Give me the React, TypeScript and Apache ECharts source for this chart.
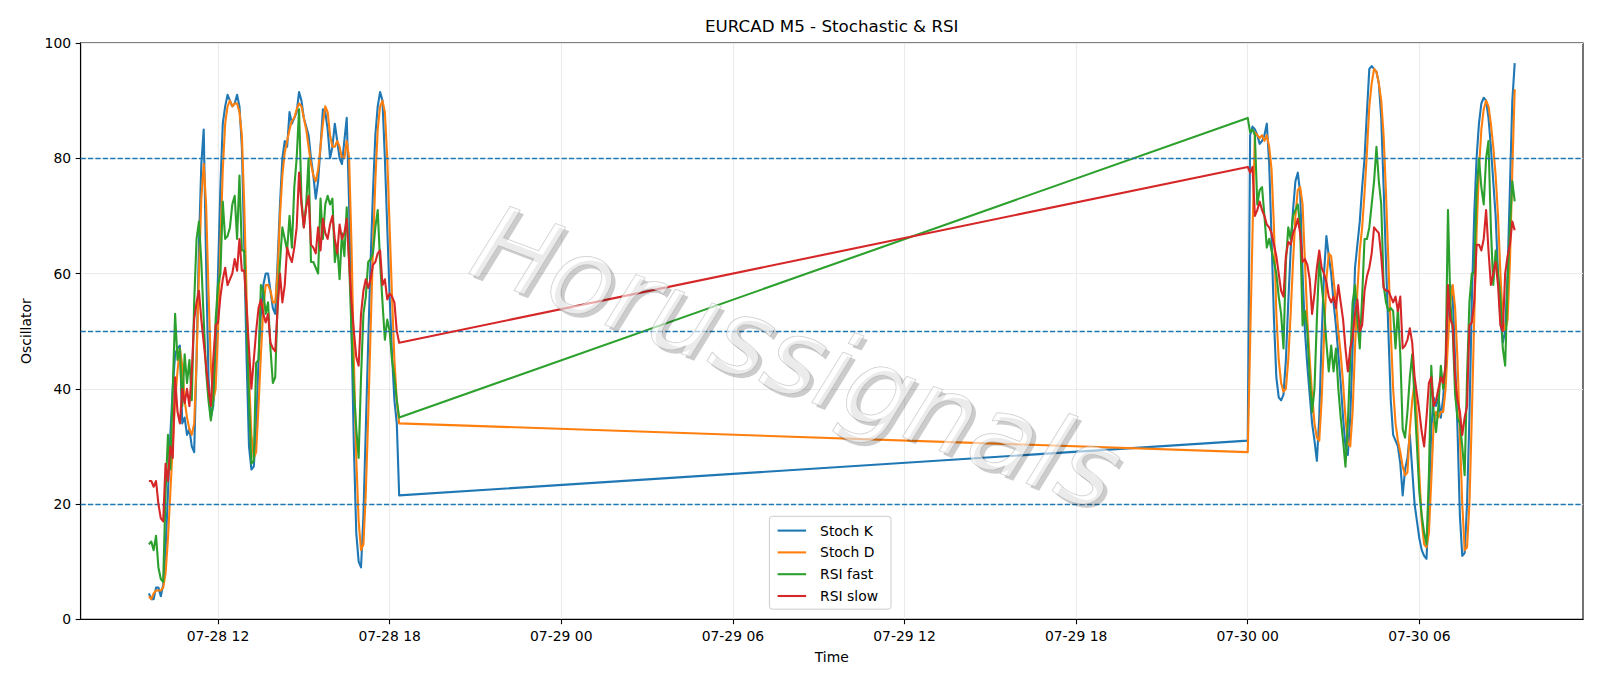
import React, { useEffect, useRef } from 'react';
import * as echarts from 'echarts';

// ---- time layout of the samples (5-minute bars) ----
const SEG1_START = Date.UTC(2025, 6, 28, 9, 35);
const SEG2_START = Date.UTC(2025, 6, 30, 0, 0);
const STEP_MS = 5 * 60 * 1000;

const X_TICKS = [
  Date.UTC(2025, 6, 28, 12), Date.UTC(2025, 6, 28, 18),
  Date.UTC(2025, 6, 29, 0), Date.UTC(2025, 6, 29, 6),
  Date.UTC(2025, 6, 29, 12), Date.UTC(2025, 6, 29, 18),
  Date.UTC(2025, 6, 30, 0), Date.UTC(2025, 6, 30, 6),
];
const LEVELS = [20, 50, 80];

// ---- session 1: 07-28 09:35 .. 18:20 ----
const stochK1 = [
  4.5, 3.5, 3.5, 5.5, 5.5, 4, 6, 12, 22, 32,
  40, 46, 47, 47.5, 34, 35, 32, 33, 30, 29,
  45, 65, 79, 85, 62, 42, 35, 37, 45, 60,
  75, 86, 89, 91, 90, 89, 89.5, 91, 89, 82,
  65, 45, 30, 26, 26.5, 33, 45, 53, 58, 60,
  60, 57, 54, 53, 62, 72, 80, 83, 82, 88,
  86, 87, 88, 91.5, 90, 87, 85.5, 84, 80, 77,
  73, 76, 82, 88.5, 88, 85, 80, 82, 86, 83,
  80, 79, 83, 87, 72, 50, 30, 15, 10, 9,
  18, 33, 48, 62, 74, 84, 89, 91.5, 90, 80,
  68, 56, 46, 38, 34, 21.5,
];
const stochD1 = [
  4, 3.5, 4.5, 5, 5, 5, 5.5, 8, 14, 22,
  30, 38, 43, 47, 44, 38, 35, 33, 32, 34,
  45, 60, 73, 79, 72, 57, 44, 38, 40, 50,
  65, 78, 86, 89, 90, 89, 89.5, 89.5, 88, 84,
  72, 56, 42, 32, 28, 29, 37, 46, 54, 58,
  58, 57, 55, 55, 60, 70, 77, 81, 83, 85,
  86.5, 87, 88.5, 89.5, 89, 87, 85, 82, 79, 77,
  76, 78, 82, 86, 89, 88, 84, 82, 82, 83,
  82, 80, 80, 83, 80, 65, 45, 28, 17, 12,
  13, 22, 35, 50, 64, 76, 85, 89, 90, 88,
  80, 68, 56, 45, 38, 34,
];
const rsiFast1 = [
  13, 13.5, 12, 14.5, 9, 7, 6.5, 22, 32, 26,
  40, 53, 45, 47, 37, 46, 41, 45, 38, 55,
  66, 69, 62, 52, 43, 38, 34.5, 38, 52, 58,
  60, 72.5, 66, 66.5, 68, 72, 73.5, 66, 77, 64,
  64, 52, 38, 27, 27.5, 44.5, 45, 58, 57, 53,
  55, 47, 41, 42, 55, 62, 68, 66, 64, 70,
  64.5, 75, 80, 88.5, 73, 68, 72, 80, 62, 62,
  61, 60, 73, 66, 72, 73.5, 72, 73, 62, 65,
  59, 67, 63, 71.5, 62, 50, 40, 33, 28, 42,
  53, 56, 62, 62.5, 63.5, 68, 71, 62, 55, 48.5,
  52, 50, 45, 42, 38, 35,
];
const rsiSlow1 = [
  24, 24, 23, 24, 20, 17.5, 17, 27, 24, 30,
  28, 42, 36, 34, 40, 37.5, 40, 37, 43, 52,
  55, 57, 52, 48, 44, 40, 37, 45, 51, 51.5,
  56, 59, 61, 58, 59, 60, 62.5, 60.5, 66, 60.5,
  60.5, 54, 47, 40, 45, 50, 54, 55.5, 53, 51.5,
  53, 48, 47, 46.5, 54, 60, 55, 58, 64.5, 63,
  62, 64.5, 68, 77.5, 72, 68, 71.5, 73.5, 65, 64.5,
  63.5, 68, 64, 69.5, 67, 66, 68.5, 70, 66, 63.5,
  68.5, 66, 67, 69.5, 62, 55, 50, 45.5, 44, 53,
  57, 59, 57.5, 59, 61.5, 62, 63.5, 64, 58, 59,
  55.5, 56.5, 56, 55, 50, 48,
];

// ---- session 2: 07-30 00:00 .. 09:20 ----
const stochK2 = [
  31, 84, 85.5, 85, 84, 82.5, 83, 84, 86, 79,
  66, 52, 42, 38.5, 38, 39, 45, 55, 64, 71,
  76, 77.5, 74, 60, 50, 44, 39, 34, 31, 27.5,
  35, 49, 60, 66.5, 63, 60, 55, 51, 46, 41,
  35, 30, 28.5, 35, 47, 61, 65, 69, 75, 80,
  88, 95.5, 96, 95.5, 95, 93, 87, 75, 62, 50,
  38, 32, 31, 30, 27, 21.5, 26, 28, 32, 26,
  20, 17, 14, 12, 11, 10.5, 20, 33, 38.5, 37,
  38.5, 35, 38.5, 44, 53, 58, 56, 45, 33, 18,
  11, 11.5, 20, 35, 55, 70, 80, 86, 89.5, 90.5,
  90, 87, 82, 76, 70, 60, 52, 48, 50, 60,
  75, 90, 96.5,
];
const stochD2 = [
  29, 48, 67, 84.5, 84, 83.5, 84, 83, 84, 82,
  78, 68, 53, 45, 41, 39.5, 40, 45, 53, 62,
  70, 74.5, 75, 72, 62, 52, 45, 39, 34, 31.5,
  31, 38, 49, 59, 63.5, 63, 59, 55, 50, 46,
  41, 35, 30.5, 30, 36, 47, 57, 64, 68, 74,
  81, 89, 93, 95.5, 95, 93, 90, 84, 74, 62,
  50, 40, 34, 31, 29, 26.5, 25, 25.5, 33, 38,
  41, 35, 25, 17, 13, 12.5, 15, 24, 34, 36,
  35, 36, 36, 40, 48, 55, 58, 54, 45, 32,
  20, 12, 12.5, 20, 35, 52, 67, 78, 85, 88.5,
  90, 89, 86, 82, 77, 70, 60, 52, 50, 52,
  62, 78, 92,
];
const rsiFast2 = [
  87, 84.5, 85, 84, 72, 74.5, 75, 70, 64.5, 66,
  64, 62, 60, 56, 53, 47, 62, 68, 66, 70,
  71, 72, 68, 51, 53.5, 50, 42, 36, 40, 52,
  62.5, 58, 54, 48, 43, 47.5, 43, 47, 40, 35,
  31, 26.5, 34, 45, 55, 58, 52, 47, 56, 66,
  66, 68, 72, 76, 82, 76, 72, 58, 55, 53.5,
  54, 53.5, 47, 54, 46, 33, 31.5, 36, 42, 46,
  38, 30, 22, 18, 15, 13, 25, 44, 36, 32.5,
  37, 44, 40, 44, 71, 55, 50, 39, 35, 34,
  30, 25, 42, 55, 60, 60, 74, 80, 75, 72,
  80, 83, 68, 58, 64, 60, 56, 47, 44, 58,
  68, 76, 72.5,
];
const rsiSlow2 = [
  78.5, 77.5, 78.5, 70, 71, 72.5, 71, 70, 68.5, 68,
  67, 65, 63, 60, 57, 56, 63, 65.5, 65, 67,
  68, 69.5, 67, 62, 62.5, 61.5, 59, 53, 56.5, 61,
  64, 61, 60, 58.5, 56, 55, 56, 54, 58, 55,
  52, 47, 43, 47, 49, 53, 55.5, 50, 51, 57,
  59.5, 61, 63.5, 68, 67.5, 67, 63, 57.5, 57, 57,
  56, 55, 56, 53.5, 56, 47, 47.5, 48.5, 50.5, 48,
  42, 39, 36, 32.5, 30, 35, 41, 42, 37, 38,
  40, 42, 41, 44, 58, 52, 51, 42, 38, 36,
  32, 35, 37, 51, 51.5, 55, 65, 65, 64, 66,
  71, 64, 58, 60, 62, 58, 51, 50, 60, 63,
  65, 69, 67.5,
];

const SERIES_NAMES = ['Stoch K', 'Stoch D', 'RSI fast', 'RSI slow'];
const COLORS = ['#1f77b4', '#ff7f0e', '#2ca02c', '#d62728'];

const withTime = (a: number[], b: number[]) => [
  ...a.map((v, i) => [SEG1_START + i * STEP_MS, v]),
  ...b.map((v, i) => [SEG2_START + i * STEP_MS, v]),
];

const pad2 = (n: number) => String(n).padStart(2, '0');
const fmtTick = (v: number) => {
  const d = new Date(v);
  return `${pad2(d.getUTCMonth() + 1)}-${pad2(d.getUTCDate())} ${pad2(d.getUTCHours())}`;
};

const FONT = 'DejaVu Sans, Verdana, sans-serif';

export default function App() {
  const ref = useRef<HTMLDivElement>(null);

  useEffect(() => {
    if (!ref.current) return;
    const chart = echarts.init(ref.current, undefined, { renderer: 'svg' });

    const tStart = SEG1_START;
    const tEnd = SEG2_START + (stochK2.length - 1) * STEP_MS;
    const margin = (tEnd - tStart) * 0.05;

    const GL = 80.6, GR = 1583, GT = 43, GB = 619.3;

    const data = [
      withTime(stochK1, stochK2),
      withTime(stochD1, stochD2),
      withTime(rsiFast1, rsiFast2),
      withTime(rsiSlow1, rsiSlow2),
    ];

    const series: any[] = [
      {
        name: 'levels',
        type: 'line',
        data: [],
        silent: true,
        z: 1,
        markLine: {
          silent: true,
          symbol: ['none', 'none'],
          label: { show: false },
          animation: false,
          lineStyle: { color: '#1f77b4', type: [5.2, 2.2], width: 1.4 },
          data: LEVELS.map((y) => ({ yAxis: y })),
        },
      },
      ...SERIES_NAMES.map((name, i) => ({
        name,
        type: 'line',
        data: data[i],
        showSymbol: false,
        symbol: 'none',
        z: 2 + i,
        lineStyle: { color: COLORS[i], width: 2.1, join: 'round' },
        itemStyle: { color: COLORS[i] },
      })),
    ];

    chart.setOption({
      animation: false,
      grid: {
        left: GL, top: GT, width: GR - GL, height: GB - GT,
        show: true, borderColor: '#000', borderWidth: 1.1, backgroundColor: 'transparent',
      },
      xAxis: {
        type: 'value',
        min: tStart - margin,
        max: tEnd + margin,
        axisLine: { show: true, lineStyle: { color: '#000', width: 1.1 } },
        axisTick: { show: true, length: 4.9, lineStyle: { color: '#000', width: 1.1 }, customValues: X_TICKS },
        axisLabel: {
          customValues: X_TICKS, formatter: (v: number) => fmtTick(v),
          color: '#000', fontSize: 13.9, fontFamily: FONT, margin: 9.5,
        },
        splitLine: { show: true, lineStyle: { color: '#ebebeb', width: 1.1 } },
      },
      yAxis: {
        type: 'value',
        min: 0, max: 100, interval: 20,
        axisLine: { show: true, lineStyle: { color: '#000', width: 1.1 } },
        axisTick: { show: true, length: 4.9, lineStyle: { color: '#000', width: 1.1 } },
        axisLabel: { color: '#000', fontSize: 13.9, fontFamily: FONT, margin: 9.5 },
        splitLine: { show: true, lineStyle: { color: '#ebebeb', width: 1.1 } },
      },
      legend: {
        data: SERIES_NAMES,
        orient: 'vertical',
        left: 769.4,
        top: 516.3,
        padding: [6.3, 13, 5.2, 8.2],
        itemGap: 5.8,
        itemWidth: 28.5,
        itemHeight: 2.1,
        icon: 'rect',
        backgroundColor: 'rgba(255,255,255,0.8)',
        borderColor: '#cccccc',
        borderWidth: 1,
        borderRadius: 3,
        textStyle: { fontSize: 13.9, fontFamily: FONT, color: '#000', lineHeight: 16, padding: [0, 0, 0, 9] },
        selectedMode: false,
      },
      graphic: [
        {
          type: 'text', x: (GL + GR) / 2, y: 26, z: 10,
          style: { text: 'EURCAD M5 - Stochastic & RSI', fontSize: 16.7, fontFamily: FONT, fill: '#000', align: 'center', verticalAlign: 'middle' },
        },
        {
          type: 'text', x: (GL + GR) / 2, y: 657, z: 10,
          style: { text: 'Time', fontSize: 13.9, fontFamily: FONT, fill: '#000', align: 'center', verticalAlign: 'middle' },
        },
        {
          type: 'text', x: 26, y: (GT + GB) / 2, rotation: Math.PI / 2, z: 10,
          style: { text: 'Oscillator', fontSize: 13.9, fontFamily: FONT, fill: '#000', align: 'center', verticalAlign: 'middle' },
        },
        {
          type: 'text', x: 801, y: 362, rotation: -0.36, z: 20,
          style: { text: 'Horussignals', fontSize: 106, fontFamily: FONT, fontStyle: 'italic', fill: 'rgba(0,0,0,0.2)', align: 'center', verticalAlign: 'middle' },
        },
        {
          type: 'text', x: 797, y: 358, rotation: -0.36, z: 21,
          style: { text: 'Horussignals', fontSize: 106, fontFamily: FONT, fontStyle: 'italic', fill: 'rgba(255,255,255,0.6)', stroke: 'rgba(160,160,160,0.6)', lineWidth: 1, align: 'center', verticalAlign: 'middle' },
        },
      ],
      series,
    });

    return () => chart.dispose();
  }, []);

  return (
    <div
      ref={ref}
      style={{ position: 'fixed', left: 0, top: 0, width: 1600, height: 686, background: '#fff' }}
    />
  );
}
